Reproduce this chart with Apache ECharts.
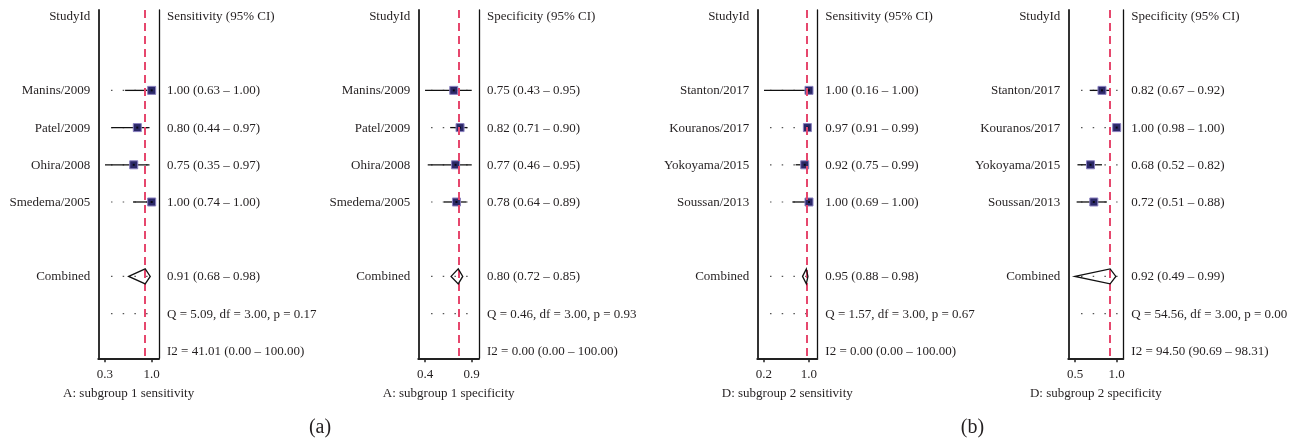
<!DOCTYPE html>
<html>
<head>
<meta charset="utf-8">
<script src="https://cdn.jsdelivr.net/npm/echarts@6/dist/echarts.min.js"></script>
<style>
html,body{margin:0;padding:0;background:#fff;}
#chart{width:1301px;height:441px;}
</style>
</head>
<body>
<div id="chart"></div>
<script>
// ---------- DATA ----------
// Panel A: subgroup 1 sensitivity
const studiesA = ['Manins/2009', 'Patel/2009', 'Ohira/2008', 'Smedema/2005'];
const sensA = [1.00, 0.80, 0.75, 1.00];
const sensLoA = [0.63, 0.44, 0.35, 0.74];
const sensHiA = [1.00, 0.97, 0.97, 1.00];
const sensPooledA = [0.91, 0.68, 0.98];
const sensQA = [5.09, 3.00, 0.17];
const sensI2A = [41.01, 0.00, 100.00];
const sensTicksA = [0.35, 1.00];
const sensTickLabelsA = ['0.3', '1.0'];

// Panel A: subgroup 1 specificity
const specA = [0.75, 0.82, 0.77, 0.78];
const specLoA = [0.43, 0.71, 0.46, 0.64];
const specHiA = [0.95, 0.90, 0.95, 0.89];
const specPooledA = [0.80, 0.72, 0.85];
const specQA = [0.46, 3.00, 0.93];
const specI2A = [0.00, 0.00, 100.00];
const specTicksA = [0.43, 0.95];
const specTickLabelsA = ['0.4', '0.9'];

// Panel D: subgroup 2 sensitivity
const studiesD = ['Stanton/2017', 'Kouranos/2017', 'Yokoyama/2015', 'Soussan/2013'];
const sensD = [1.00, 0.97, 0.92, 1.00];
const sensLoD = [0.16, 0.91, 0.75, 0.69];
const sensHiD = [1.00, 0.99, 0.99, 1.00];
const sensPooledD = [0.95, 0.88, 0.98];
const sensQD = [1.57, 3.00, 0.67];
const sensI2D = [0.00, 0.00, 100.00];
const sensTicksD = [0.16, 1.00];
const sensTickLabelsD = ['0.2', '1.0'];

// Panel D: subgroup 2 specificity
const specD = [0.82, 1.00, 0.68, 0.72];
const specLoD = [0.67, 0.98, 0.52, 0.51];
const specHiD = [0.92, 1.00, 0.82, 0.88];
const specPooledD = [0.92, 0.49, 0.99];
const specQD = [54.56, 3.00, 0.00];
const specI2D = [94.50, 90.69, 98.31];
const specTicksD = [0.49, 1.00];
const specTickLabelsD = ['0.5', '1.0'];

// ---------- LAYOUT / STYLE ----------
const FONT = '"Liberation Serif", "Times New Roman", serif';
const TXT = '#231f20';
const panels = [
  {studies: studiesA, est: sensA, lo: sensLoA, hi: sensHiA, pooled: sensPooledA, q: sensQA, i2: sensI2A,
   ticks: sensTicksA, tickLabels: sensTickLabelsA, header: 'Sensitivity (95% CI)', title: 'A: subgroup 1 sensitivity',
   left: 98.3, width: 60.7, range: [0.257, 1.102]},
  {studies: studiesA, est: specA, lo: specLoA, hi: specHiA, pooled: specPooledA, q: specQA, i2: specI2A,
   ticks: specTicksA, tickLabels: specTickLabelsA, header: 'Specificity (95% CI)', title: 'A: subgroup 1 specificity',
   left: 418.3, width: 60.7, range: [0.355, 1.031]},
  {studies: studiesD, est: sensD, lo: sensLoD, hi: sensHiD, pooled: sensPooledD, q: sensQD, i2: sensI2D,
   ticks: sensTicksD, tickLabels: sensTickLabelsD, header: 'Sensitivity (95% CI)', title: 'D: subgroup 2 sensitivity',
   left: 757.3, width: 60, range: [0.035, 1.155]},
  {studies: studiesD, est: specD, lo: specLoD, hi: specHiD, pooled: specPooledD, q: specQD, i2: specI2D,
   ticks: specTicksD, tickLabels: specTickLabelsD, header: 'Specificity (95% CI)', title: 'D: subgroup 2 specificity',
   left: 1068.3, width: 55, range: [0.408, 1.081]}
];
const ROW_HEADER = 0, ROW_FIRST = 2, ROW_POOLED = 7, ROW_Q = 8, ROW_I2 = 9;
const Y_MIN = -0.161, Y_MAX = 9.202;
const f2 = v => v.toFixed(2);

const grids = [], xAxes = [], yAxes = [], series = [];

panels.forEach((p, i) => {
  grids.push({left: p.left, top: 10, width: p.width, height: 348.3});
  xAxes.push({
    gridIndex: i, type: 'value', min: p.range[0], max: p.range[1],
    name: p.title, nameLocation: 'middle', nameGap: 29,
    nameTextStyle: {fontFamily: FONT, fontSize: 13, color: TXT},
    axisLine: {show: true, onZero: false, lineStyle: {color: '#222', width: 2}},
    axisTick: {show: true, customValues: p.ticks, length: 4, lineStyle: {color: '#222', width: 1.5}},
    axisLabel: {show: true, customValues: p.ticks, margin: 10, fontFamily: FONT, fontSize: 13, color: TXT,
      formatter: v => { const k = p.ticks.findIndex(t => Math.abs(t - v) < 1e-6); return k >= 0 ? p.tickLabels[k] : ''; }},
    splitLine: {show: false}
  });
  const yBase = {gridIndex: i, type: 'value', inverse: true, min: Y_MIN, max: Y_MAX,
    axisTick: {show: false}, axisLabel: {show: false}, splitLine: {show: false}};
  yAxes.push(Object.assign({}, yBase, {position: 'left', axisLine: {show: true, onZero: false, lineStyle: {color: '#333', width: 2}}}));
  yAxes.push(Object.assign({}, yBase, {position: 'right', axisLine: {show: true, onZero: false, lineStyle: {color: '#111', width: 1.3}}}));

  const yi = 2 * i;
  const studyRows = p.studies.map((s, k) => ROW_FIRST + k);

  // dotted row guides
  const dotRows = studyRows.concat([ROW_POOLED, ROW_Q]);
  series.push({
    type: 'custom', xAxisIndex: i, yAxisIndex: yi, silent: true, z: 1,
    data: dotRows.map(r => [p.ticks[0], r]),
    renderItem: (params, api) => {
      const a = api.coord([p.ticks[0], api.value(1)]);
      const b = api.coord([p.ticks[1], api.value(1)]);
      return {type: 'line', shape: {x1: a[0], y1: a[1], x2: b[0] + 1, y2: b[1]},
        style: {stroke: '#555', lineWidth: 1.2, lineDash: [1.5, 10.2], lineDashOffset: 5.7}};
    }
  });

  // CI lines
  series.push({
    type: 'custom', xAxisIndex: i, yAxisIndex: yi, silent: true, z: 2,
    data: p.studies.map((s, k) => [p.lo[k], p.hi[k], studyRows[k]]),
    renderItem: (params, api) => {
      const a = api.coord([api.value(0), api.value(2)]);
      const b = api.coord([api.value(1), api.value(2)]);
      return {type: 'line', shape: {x1: a[0], y1: a[1], x2: b[0], y2: b[1]},
        style: {stroke: '#111', lineWidth: 1.3}};
    }
  });

  // squares
  series.push({
    type: 'scatter', xAxisIndex: i, yAxisIndex: yi, silent: true, z: 3, clip: false,
    symbol: 'rect', symbolSize: 8,
    itemStyle: {color: '#2b2868', borderColor: '#8a80c0', borderWidth: 1, opacity: 1},
    data: p.est.map((v, k) => [v, studyRows[k]]),
    markLine: {
      silent: true, symbol: 'none', label: {show: false},
      lineStyle: {color: '#e6476d', width: 2, type: [8, 5]},
      data: [{xAxis: p.pooled[0]}]
    }
  });
  // centre dots
  series.push({
    type: 'scatter', xAxisIndex: i, yAxisIndex: yi, silent: true, z: 4, clip: false,
    symbol: 'rect', symbolSize: 2, itemStyle: {color: '#000'},
    data: p.est.map((v, k) => [v, studyRows[k]])
  });

  // pooled diamond
  series.push({
    type: 'custom', xAxisIndex: i, yAxisIndex: yi, silent: true, z: 5,
    data: [[p.pooled[0], p.pooled[1], p.pooled[2], ROW_POOLED]],
    renderItem: (params, api) => {
      const c = api.coord([api.value(0), api.value(3)]);
      const l = api.coord([api.value(1), api.value(3)]);
      const r = api.coord([api.value(2), api.value(3)]);
      const h = 7.5;
      return {type: 'polygon', shape: {points: [[l[0], c[1]], [c[0], c[1] - h], [r[0], c[1]], [c[0], c[1] + h]]},
        style: {fill: 'none', stroke: '#111', lineWidth: 1.3}};
    }
  });

  // text columns
  const leftTexts = [[ROW_HEADER, 'StudyId']].concat(p.studies.map((s, k) => [studyRows[k], s]), [[ROW_POOLED, 'Combined']]);
  const rightTexts = [[ROW_HEADER, p.header]]
    .concat(p.est.map((v, k) => [studyRows[k], f2(v) + ' (' + f2(p.lo[k]) + ' – ' + f2(p.hi[k]) + ')']))
    .concat([[ROW_POOLED, f2(p.pooled[0]) + ' (' + f2(p.pooled[1]) + ' – ' + f2(p.pooled[2]) + ')'],
             [ROW_Q, 'Q = ' + f2(p.q[0]) + ', df = ' + f2(p.q[1]) + ', p = ' + f2(p.q[2])],
             [ROW_I2, 'I2 = ' + f2(p.i2[0]) + ' (' + f2(p.i2[1]) + ' – ' + f2(p.i2[2]) + ')']]);
  const textSeries = (items, side) => ({
    type: 'custom', xAxisIndex: i, yAxisIndex: yi, silent: true, z: 6,
    data: items.map(t => [p.range[0], t[0]]),
    renderItem: (params, api) => {
      const pt = api.coord([api.value(0), api.value(1)]);
      const cs = params.coordSys;
      const x = side === 'left' ? cs.x - 8 : cs.x + cs.width + 8;
      return {type: 'text', x: x, y: pt[1] + 0.5,
        style: {text: items[params.dataIndex][1], fontFamily: FONT, fontSize: 13, fill: TXT,
          textAlign: side === 'left' ? 'right' : 'left', textVerticalAlign: 'middle'}};
    }
  });
  series.push(textSeries(leftTexts, 'left'));
  series.push(textSeries(rightTexts, 'right'));
});

const chart = echarts.init(document.getElementById('chart'), null, {renderer: 'canvas'});
chart.setOption({
  animation: false,
  backgroundColor: '#fff',
  grid: grids, xAxis: xAxes, yAxis: yAxes, series: series,
  graphic: [
    {type: 'text', x: 320, y: 428, style: {text: '(a)', fontFamily: FONT, fontSize: 20, fill: TXT, textAlign: 'center', textVerticalAlign: 'middle'}},
    {type: 'text', x: 972.5, y: 428, style: {text: '(b)', fontFamily: FONT, fontSize: 20, fill: TXT, textAlign: 'center', textVerticalAlign: 'middle'}}
  ]
});
</script>
</body>
</html>
